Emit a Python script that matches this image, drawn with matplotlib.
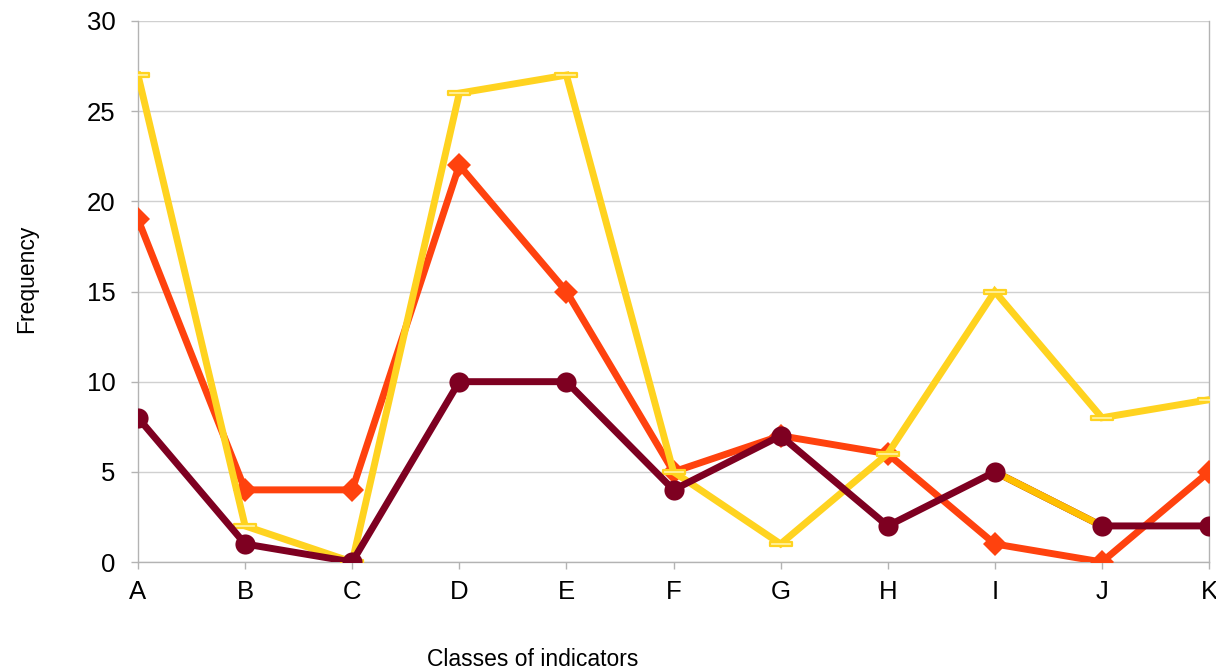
import matplotlib
matplotlib.use("Agg")
import matplotlib.pyplot as plt
import numpy as np
from matplotlib.path import Path

plt.rcParams['font.family'] = ['Liberation Sans', 'DejaVu Sans']

categories = ["A", "B", "C", "D", "E", "F", "G", "H", "I", "J", "K"]
series_orange = [19, 4, 4, 22, 15, 5, 7, 6, 1, 0, 5]
series_yellow = [27, 2, 0, 26, 27, 5, 1, 6, 15, 8, 9]
series_maroon = [8, 1, 0, 10, 10, 4, 7, 2, 5, 2, 2]
series_amber = [None, None, None, None, None, None, None, None, 5, 2, None]

y_ticks = [0, 5, 10, 15, 20, 25, 30]

x = np.arange(len(categories))

fig = plt.figure(figsize=(12.16, 6.70), dpi=100)
ax = fig.add_axes([138 / 1216, 1 - 562 / 670, (1209 - 138) / 1216, (562 - 21) / 670])

# flat hollow bar marker for the yellow series
bar_marker = Path([(-1, -0.22), (1, -0.22), (1, 0.22), (-1, 0.22), (-1, -0.22)],
                  [Path.MOVETO, Path.LINETO, Path.LINETO, Path.LINETO, Path.CLOSEPOLY])

lw = 5.0
ax.plot(x, series_orange, color="#ff420e", lw=lw, marker="D", markersize=12,
        markeredgewidth=0, zorder=3, solid_joinstyle="miter")
ax.plot(x, series_yellow, color="#ffd320", lw=lw, marker=bar_marker, markersize=16,
        markerfacecolor="#fff2a0", markeredgecolor="#ffd320", markeredgewidth=1.6,
        zorder=4, solid_joinstyle="miter")
ax.plot(x, series_maroon, color="#7e0021", lw=lw, zorder=5, solid_joinstyle="miter")
amber = np.array([np.nan if v is None else v for v in series_amber], dtype=float)
ax.plot(x, amber, color="#ffbf00", lw=lw, zorder=6)
ax.plot(x, series_maroon, linestyle="none", marker="o", markersize=14.5,
        color="#7e0021", markeredgewidth=0, zorder=7)

ax.set_xlim(0, len(categories) - 1)
ax.set_ylim(0, 30)
ax.set_xticks(x)
ax.set_xticklabels(categories)
ax.set_yticks(y_ticks)

ax.grid(axis="y", color="#d0d0d0", lw=1)
ax.set_axisbelow(True)
ax.spines["top"].set_visible(False)
for side in ["left", "bottom", "right"]:
    ax.spines[side].set_color("#b3b3b3")
    ax.spines[side].set_linewidth(1)
ax.tick_params(axis="both", colors="#b3b3b3", labelcolor="black", labelsize=18.5,
               length=5, width=1)
ax.tick_params(axis="y", pad=11)
ax.tick_params(axis="x", pad=8)

fig.text(533 / 1216, 1 - 660 / 670, "Classes of indicators", ha="center", va="center",
         fontsize=16.5)
fig.text(27 / 1216, 1 - 279 / 670, "Frequency", ha="center", va="center",
         rotation=90, fontsize=16.5)

fig.savefig("out.png", dpi=100)
